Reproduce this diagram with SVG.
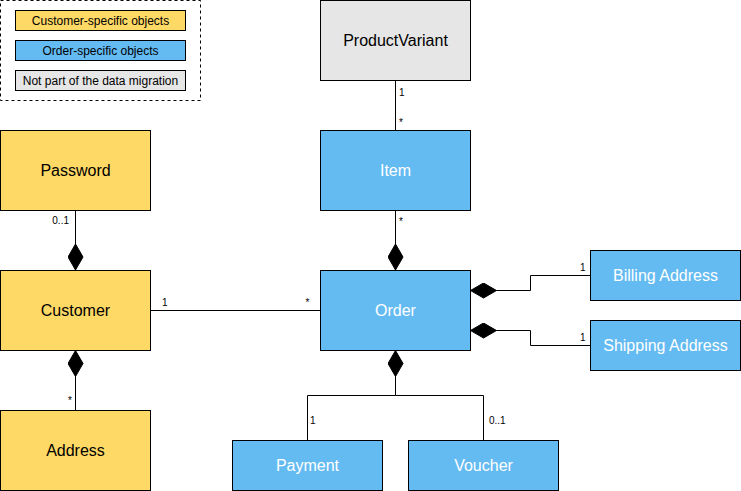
<svg xmlns="http://www.w3.org/2000/svg" width="741" height="491" viewBox="0 0 741 491">
<style>
.node{stroke:#000;stroke-width:1}
.cust{fill:#FFD966}
.ord{fill:#64BBF2}
.ext{fill:#E6E6E6}
.lbl{font-family:"Liberation Sans",Arial,sans-serif;font-size:16px;text-anchor:middle}
.lbl.w{fill:#fff}
.leg{font-family:"Liberation Sans",Arial,sans-serif;font-size:12px;text-anchor:middle;fill:#000}
.mul{font-family:"Liberation Sans",Arial,sans-serif;font-size:10px;fill:#000}
.edge{fill:none;stroke:#000;stroke-width:1}
.comp{marker-start:url(#diamond)}
</style>
<defs>
<marker id="diamond" viewBox="0 0 26 16" refX="0" refY="8" markerWidth="26" markerHeight="16" markerUnits="userSpaceOnUse" orient="auto">
<polygon points="0,8 13,0.5 26,8 13,15.5" fill="#000" stroke="#000" stroke-width="1"/>
</marker>
</defs>
<rect width="741" height="491" fill="#fff"/>

<g id="legend">
<rect x="0.5" y="0.5" width="200" height="100" fill="none" stroke="#000" stroke-dasharray="3,3"/>
<rect class="node cust" x="15.5" y="10.5" width="170" height="20"/>
<text class="leg" x="100.5" y="24.5">Customer-specific objects</text>
<rect class="node ord" x="15.5" y="40.5" width="170" height="20"/>
<text class="leg" x="100.5" y="54.5">Order-specific objects</text>
<rect class="node ext" x="15.5" y="70.5" width="170" height="20"/>
<text class="leg" x="100.5" y="84.5">Not part of the data migration</text>
</g>

<g id="connectors">
<path class="edge" d="M395.5,80 V130"/>
<path class="edge comp" d="M395.5,270 V210"/>
<path class="edge comp" d="M470.5,290.5 H530.5 V275.5 H590"/>
<path class="edge comp" d="M470.5,330.5 H530.5 V345.5 H590"/>
<path class="edge comp" d="M395.5,350.5 V395.5 H307.5 V440"/>
<path class="edge" d="M395.5,395.5 H483.5 V440"/>
<path class="edge comp" d="M75.5,270 V210"/>
<path class="edge comp" d="M75.5,350.5 V410"/>
<path class="edge" d="M150.5,310.5 H320"/>
<text class="mul" x="399" y="95.5">1</text>
<text class="mul" x="399" y="125.5">*</text>
<text class="mul" x="399" y="224.5">*</text>
<text class="mul" x="580" y="270.5">1</text>
<text class="mul" x="580" y="340.5">1</text>
<text class="mul" x="310" y="423.5">1</text>
<text class="mul" x="489" y="423.5">0..1</text>
<text class="mul" x="69" y="224" text-anchor="end">0..1</text>
<text class="mul" x="68" y="403.5">*</text>
<text class="mul" x="162" y="305.5">1</text>
<text class="mul" x="305.5" y="305.5">*</text>
</g>

<g id="ProductVariant">
<rect class="node ext" x="320.5" y="0.5" width="150" height="80"/>
<text class="lbl" x="395.5" y="45.5">ProductVariant</text>
</g>
<g id="Item">
<rect class="node ord" x="320.5" y="130.5" width="150" height="80"/>
<text class="lbl w" x="395.5" y="175.5">Item</text>
</g>
<g id="Order">
<rect class="node ord" x="320.5" y="270.5" width="150" height="80"/>
<text class="lbl w" x="395.5" y="315.5">Order</text>
</g>
<g id="Password">
<rect class="node cust" x="0.5" y="130.5" width="150" height="80"/>
<text class="lbl" x="75.5" y="175.5">Password</text>
</g>
<g id="Customer">
<rect class="node cust" x="0.5" y="270.5" width="150" height="80"/>
<text class="lbl" x="75.5" y="315.5">Customer</text>
</g>
<g id="Address">
<rect class="node cust" x="0.5" y="410.5" width="150" height="80"/>
<text class="lbl" x="75.5" y="455.5">Address</text>
</g>
<g id="BillingAddress">
<rect class="node ord" x="590.5" y="250.5" width="150" height="50"/>
<text class="lbl w" x="665.5" y="280.5">Billing Address</text>
</g>
<g id="ShippingAddress">
<rect class="node ord" x="590.5" y="320.5" width="150" height="50"/>
<text class="lbl w" x="665.5" y="350.5">Shipping Address</text>
</g>
<g id="Payment">
<rect class="node ord" x="232.5" y="440.5" width="150" height="50"/>
<text class="lbl w" x="307.5" y="470.5">Payment</text>
</g>
<g id="Voucher">
<rect class="node ord" x="408.5" y="440.5" width="150" height="50"/>
<text class="lbl w" x="483.5" y="470.5">Voucher</text>
</g>
</svg>
